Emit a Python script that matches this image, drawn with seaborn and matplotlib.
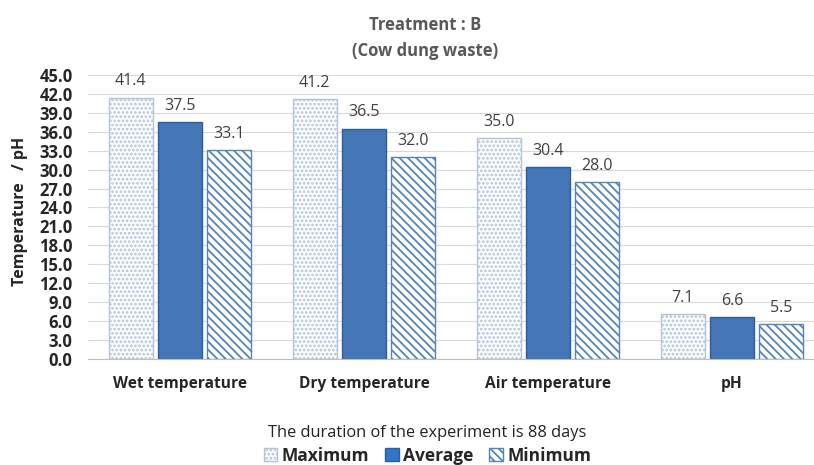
import numpy as np
import pandas as pd
import matplotlib.pyplot as plt
import seaborn as sns
from matplotlib.patches import Patch

categories = ['Wet temperature', 'Dry temperature', 'Air temperature', 'pH']
series = ['Maximum', 'Average', 'Minimum']
maximum = [41.4, 41.2, 35.0, 7.1]
average = [37.5, 36.5, 30.4, 6.6]
minimum = [33.1, 32.0, 28.0, 5.5]

df = pd.DataFrame({
    'Parameter': categories * 3,
    'Series': ['Maximum'] * 4 + ['Average'] * 4 + ['Minimum'] * 4,
    'Value': maximum + average + minimum,
})

sns.set_style('white')
plt.rcParams['font.family'] = ['Open Sans', 'DejaVu Sans']
plt.rcParams['hatch.linewidth'] = 1.3

fig, ax = plt.subplots(figsize=(8.14, 4.65), dpi=100)
fig.subplots_adjust(left=0.108, right=1.0, top=0.839, bottom=0.228)

palette = {'Maximum': '#fafcfe', 'Average': '#3274c8', 'Minimum': '#ffffff'}
sns.barplot(data=df, x='Parameter', y='Value', hue='Series', hue_order=series,
            palette=palette, ax=ax, width=0.8, gap=0.1, legend=False,
            edgecolor='#a9b8c8', linewidth=1.0)

# patterns like the original: dotted, solid, diagonal stripes
styles = {
    'Maximum': dict(hatch='....', edge='#b4c4d6'),
    'Average': dict(hatch=None, edge='#2a5fa8'),
    'Minimum': dict(hatch='\\\\\\\\', edge='#5584bd'),
}
for cont, name in zip(ax.containers, series):
    st = styles[name]
    for bar in cont:
        bar.set_edgecolor(st['edge'])
        if st['hatch']:
            bar.set_hatch(st['hatch'])
    ax.bar_label(cont, fmt='%.1f', padding=6, fontsize=11.5, color='#404040')

ax.set_xlim(-0.5, 3.446)
ax.set_ylim(0, 45)
ticks = np.arange(0, 45.1, 3)
ax.set_yticks(ticks)
ax.set_yticklabels([f'{v:.1f}' for v in ticks], fontweight='bold', fontsize=12)
ax.yaxis.grid(True, color='#d9d9d9', linewidth=0.8)
ax.set_axisbelow(True)
for s in ['top', 'right', 'left']:
    ax.spines[s].set_visible(False)
ax.spines['bottom'].set_color('#bfbfbf')
ax.tick_params(axis='x', length=0, pad=12)
ax.tick_params(axis='y', length=0, pad=11)
for lbl in ax.get_xticklabels():
    lbl.set_fontweight('bold')
    lbl.set_fontsize(11.2)

ax.set_ylabel('Temperature   / pH', fontweight='bold', fontsize=11.5, labelpad=3)
ax.yaxis.set_label_coords(-0.082, 0.52)
ax.set_xlabel('')

fig.text(0.522, 0.946, 'Treatment : B', ha='center', va='center',
         fontweight='bold', fontsize=12, color='#595959')
fig.text(0.522, 0.89, '(Cow dung waste)', ha='center', va='center',
         fontweight='bold', fontsize=12, color='#595959')
fig.text(0.525, 0.069, 'The duration of the experiment is 88 days',
         ha='center', va='center', fontsize=11.8, color='#222222')

handles = [
    Patch(facecolor='#fafcfe', edgecolor='#b4c4d6', hatch='....', label='Maximum'),
    Patch(facecolor='#3274c8', edgecolor='#2a5fa8', label='Average'),
    Patch(facecolor='#ffffff', edgecolor='#5584bd', hatch='\\\\\\\\', label='Minimum'),
]
fig.legend(handles=handles, loc='center', ncol=3, frameon=False,
           bbox_to_anchor=(0.525, 0.02), handlelength=0.8, handleheight=0.8,
           handletextpad=0.25, columnspacing=0.9,
           prop={'weight': 'bold', 'size': 12.5})

fig.savefig('out.png', dpi=100)
